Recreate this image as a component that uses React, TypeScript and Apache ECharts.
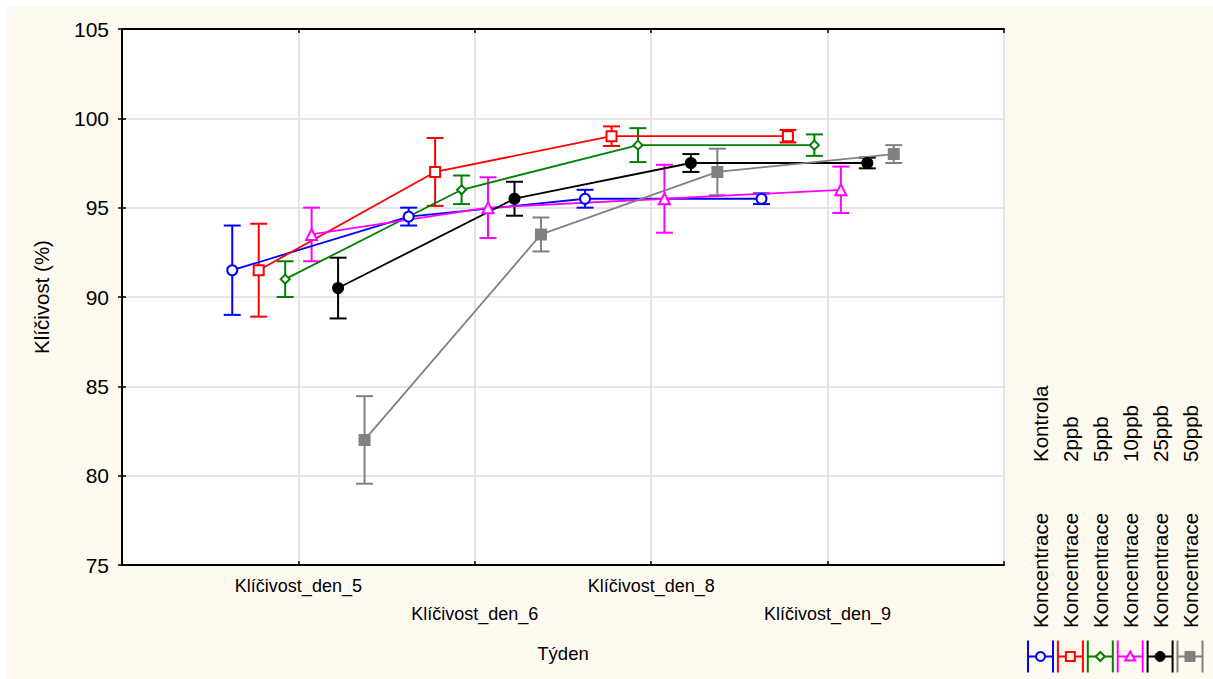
import React, { useEffect, useRef } from "react";
import * as echarts from "echarts";

// ---- data ----
const categories = ["Klíčivost_den_5", "Klíčivost_den_6", "Klíčivost_den_8", "Klíčivost_den_9"];
const groupLabel = "Koncentrace";
const legendLabels = ["Kontrola", "2ppb", "5ppb", "10ppb", "25ppb", "50ppb"];

const kontrolaMean = [91.5, 94.5, 95.5, 95.5];
const kontrolaErr = [2.5, 0.5, 0.5, 0.3];
const ppb2Mean = [91.5, 97.0, 99.0, 99.0];
const ppb2Err = [2.6, 1.9, 0.55, 0.35];
const ppb5Mean = [91.0, 96.0, 98.5, 98.5];
const ppb5Err = [1.0, 0.8, 0.95, 0.6];
const ppb10Mean = [93.5, 95.0, 95.5, 96.0];
const ppb10Err = [1.5, 1.7, 1.9, 1.3];
const ppb25Mean = [90.5, 95.5, 97.5, 97.5];
const ppb25Err = [1.7, 0.95, 0.5, 0.3];
const ppb50Mean = [82.0, 93.5, 97.0, 98.0];
const ppb50Err = [2.45, 0.95, 1.3, 0.5];

const yTicks = { min: 75, max: 105, interval: 5 };

// ---- styles ----
const means = [kontrolaMean, ppb2Mean, ppb5Mean, ppb10Mean, ppb25Mean, ppb50Mean];
const errs = [kontrolaErr, ppb2Err, ppb5Err, ppb10Err, ppb25Err, ppb50Err];
const colors = ["#0000FF", "#FF0000", "#008000", "#FF00FF", "#000000", "#808080"];
const symbols = ["emptyCircle", "emptyRect", "emptyDiamond", "emptyTriangle", "circle", "rect"];
const symbolSizes = [10, 10, 9, 11, 10, 10];
const offsets = [-0.375, -0.225, -0.075, 0.075, 0.225, 0.375];

const AX_FONT = "'Liberation Sans', Arial, sans-serif";

function legendMarker(i: number, cx: number, cy: number): any {
  const c = colors[i];
  const stroke = { stroke: c, lineWidth: 2, fill: "#FFFAF0" };
  const filled = { fill: c, stroke: c, lineWidth: 1 };
  switch (i) {
    case 0:
      return { type: "circle", shape: { cx, cy, r: 4.5 }, style: stroke };
    case 1:
      return { type: "rect", shape: { x: cx - 4.5, y: cy - 4.5, width: 9, height: 9 }, style: stroke };
    case 2:
      return { type: "polygon", shape: { points: [[cx, cy - 4.5], [cx + 4.5, cy], [cx, cy + 4.5], [cx - 4.5, cy]] }, style: stroke };
    case 3:
      return { type: "polygon", shape: { points: [[cx, cy - 5], [cx + 5, cy + 4], [cx - 5, cy + 4]] }, style: stroke };
    case 4:
      return { type: "circle", shape: { cx, cy, r: 5 }, style: filled };
    default:
      return { type: "rect", shape: { x: cx - 5, y: cy - 5, width: 10, height: 10 }, style: filled };
  }
}

export default function App() {
  const ref = useRef<HTMLDivElement>(null);

  useEffect(() => {
    document.body.style.margin = "0";
    const chart = echarts.init(ref.current!, null, { renderer: "svg" });

    const lineSeries = means.map((m, i) => ({
      type: "line",
      name: groupLabel + " " + legendLabels[i],
      data: m.map((v, k) => [k + 1 + offsets[i], v]),
      symbol: symbols[i],
      symbolSize: symbolSizes[i],
      z: 4,
      lineStyle: { color: colors[i], width: 1.8 },
      itemStyle: { color: colors[i], borderColor: colors[i], borderWidth: 2 },
      emphasis: { disabled: true },
    }));

    const errSeries = means.map((m, i) => ({
      type: "custom",
      name: groupLabel + " " + legendLabels[i] + " err",
      data: m.map((v, k) => [k + 1 + offsets[i], v, errs[i][k]]),
      encode: { x: 0, y: 1 },
      z: 3,
      renderItem: (params: any, api: any) => {
        const x = api.value(0);
        const mv = api.value(1);
        const e = api.value(2);
        const p1 = api.coord([x, mv + e]);
        const p2 = api.coord([x, mv - e]);
        const hw = 8.5;
        const style = { stroke: colors[i], lineWidth: 2, fill: null };
        return {
          type: "group",
          children: [
            { type: "line", shape: { x1: p1[0], y1: p1[1], x2: p2[0], y2: p2[1] }, style },
            { type: "line", shape: { x1: p1[0] - hw, y1: p1[1], x2: p1[0] + hw, y2: p1[1] }, style },
            { type: "line", shape: { x1: p2[0] - hw, y1: p2[1], x2: p2[0] + hw, y2: p2[1] }, style },
          ],
        };
      },
    }));

    const legendGraphics: any[] = [];
    legendLabels.forEach((lab, i) => {
      const cx = 1040.5 + i * 29.9;
      legendGraphics.push({
        type: "text",
        x: cx,
        y: 628,
        rotation: Math.PI / 2,
        style: { text: groupLabel, fontSize: 20.5, fontFamily: AX_FONT, fill: "#000", align: "left", verticalAlign: "middle" },
      });
      legendGraphics.push({
        type: "text",
        x: cx,
        y: 462,
        rotation: Math.PI / 2,
        style: { text: lab, fontSize: 20.5, fontFamily: AX_FONT, fill: "#000", align: "left", verticalAlign: "middle" },
      });
      const cy = 656.5;
      const hw = 12.5;
      const st = { stroke: colors[i], lineWidth: 2 };
      legendGraphics.push({ type: "line", shape: { x1: cx - hw, y1: cy, x2: cx + hw, y2: cy }, style: st });
      legendGraphics.push({ type: "line", shape: { x1: cx - hw, y1: cy - 16, x2: cx - hw, y2: cy + 16 }, style: st });
      legendGraphics.push({ type: "line", shape: { x1: cx + hw, y1: cy - 16, x2: cx + hw, y2: cy + 16 }, style: st });
      legendGraphics.push(legendMarker(i, cx, cy));
    });

    const axisLine = { show: true, lineStyle: { color: "#000", width: 2 } };
    const axisTick = { show: true, inside: true, length: 4, lineStyle: { color: "#000", width: 1.5 } };

    chart.setOption({
      animation: false,
      backgroundColor: "#FFFFFF",
      graphic: [
        { type: "rect", z: -10, silent: true, shape: { x: 7, y: 6, width: 1206, height: 673 }, style: { fill: "#FFFAF0" } },
        ...legendGraphics,
      ],
      grid: { left: 122, top: 29, width: 882, height: 536, show: true, backgroundColor: "#FFFFFF", borderWidth: 0 },
      xAxis: [
        {
          type: "value",
          min: 0,
          max: 5,
          interval: 1,
          position: "bottom",
          axisLine,
          axisTick,
          splitLine: { show: true, lineStyle: { color: "#DDDDDD", width: 1.5 } },
          axisLabel: {
            margin: 7,
            fontSize: 18,
            lineHeight: 28,
            fontFamily: AX_FONT,
            color: "#000",
            formatter: (v: number) => {
              const k = Math.round(v) - 1;
              if (k < 0 || k >= categories.length) return "";
              return k % 2 === 1 ? "\n" + categories[k] : categories[k];
            },
          },
          name: "Týden",
          nameLocation: "middle",
          nameGap: 79,
          nameTextStyle: { fontSize: 18.5, fontFamily: AX_FONT, color: "#000", verticalAlign: "top" },
        },
        {
          type: "value",
          min: 0,
          max: 5,
          interval: 1,
          position: "top",
          axisLine,
          axisTick,
          splitLine: { show: false },
          axisLabel: { show: false },
        },
      ],
      yAxis: [
        {
          type: "value",
          min: yTicks.min,
          max: yTicks.max,
          interval: yTicks.interval,
          position: "left",
          axisLine,
          axisTick,
          splitLine: { show: true, lineStyle: { color: "#DDDDDD", width: 1.5 } },
          axisLabel: { margin: 13, fontSize: 21, fontFamily: AX_FONT, color: "#000" },
          name: "Klíčivost (%)",
          nameLocation: "middle",
          nameRotate: 90,
          nameGap: 70,
          nameTextStyle: { fontSize: 20.5, fontFamily: AX_FONT, color: "#000" },
        },
        {
          type: "value",
          min: yTicks.min,
          max: yTicks.max,
          interval: yTicks.interval,
          position: "right",
          axisLine,
          axisTick,
          splitLine: { show: false },
          axisLabel: { show: false },
        },
      ],
      series: [...errSeries, ...lineSeries],
    });

    return () => chart.dispose();
  }, []);

  return <div ref={ref} style={{ width: 1213, height: 679 }} />;
}
